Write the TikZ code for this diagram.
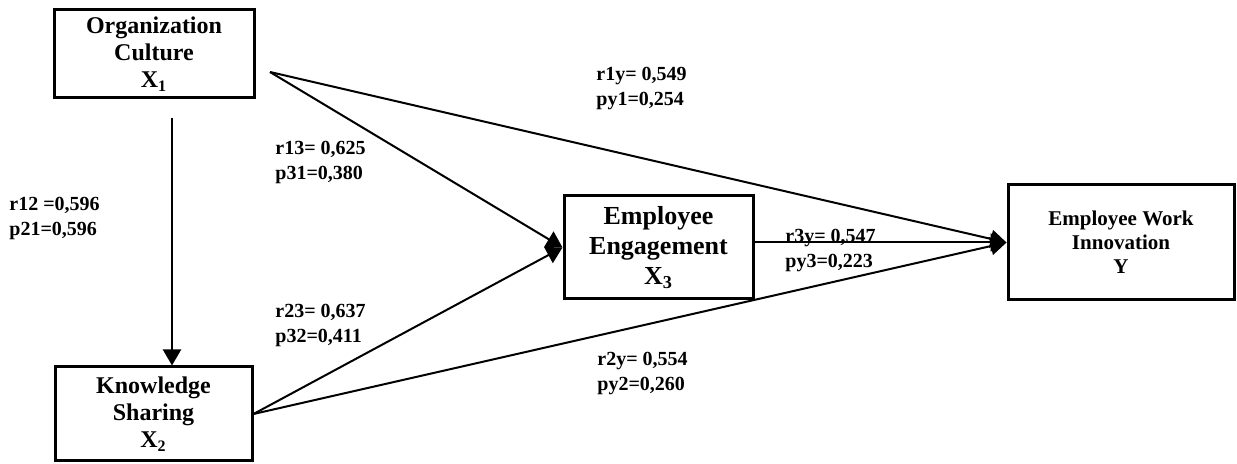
\documentclass[tikz,border=0pt]{standalone}
\usepackage{fontspec}
\setmainfont{Liberation Serif}
\usetikzlibrary{arrows.meta}
\begin{document}
\begin{tikzpicture}
  [x=0.5pt,y=-0.5pt,every node/.style={inner sep=0pt,font=\bfseries},
   var/.style={draw,line width=1.5pt,align=center},
   coef/.style={anchor=west,align=left,font=\bfseries\fontsize{10}{12.5}\selectfont},
   arr/.style={line width=1pt,-{Triangle[length=8pt,width=9pt]}}]
  \useasboundingbox (0,0) rectangle (1237,464);
  \node (x1)[var,minimum width=100pt,minimum height=44pt,font=\bfseries\fontsize{12}{13.5}\selectfont] at (154,54) {Organization\\Culture\\X\textsubscript{1}};
  \node (x2)[var,minimum width=98.5pt,minimum height=47pt,font=\bfseries\fontsize{12}{13.5}\selectfont] at (153.5,414) {Knowledge\\Sharing\\X\textsubscript{2}};
  \node (x3)[var,minimum width=94.5pt,minimum height=51.5pt,font=\bfseries\fontsize{13}{15}\selectfont] at (658.5,247.5) {Employee\\Engagement\\X\textsubscript{3}};
  \node (y)[var,minimum width=113pt,minimum height=57.5pt,font=\bfseries\fontsize{10.5}{12}\selectfont] at (1121,242.5) {Employee Work\\Innovation\\Y};

  \coordinate (o1) at (270,72);
  \coordinate (a12) at (172,118);

  \node (c12)[coef] at (9,218) {r12 =0,596\\p21=0,596};
  \node (c13)[coef] at (275,162) {r13= 0,625\\p31=0,380};
  \node (c23)[coef] at (275,325) {r23= 0,637\\p32=0,411};
  \node (c1y)[coef] at (596,89) {r1y= 0,549\\py1=0,254};
  \node (c3y)[coef] at (785,251) {r3y= 0,547\\py3=0,223};
  \node (c2y)[coef] at (597,374) {r2y= 0,554\\py2=0,260};

  \draw[arr] (a12) -- (a12 |- x2.north);
  \foreach \from/\to in {o1/x3.west,o1/y.west,x2.east/x3.west,x2.east/y.west}
    \draw[arr] (\from) -- (\to);
  \draw[arr] (x3.east |- y.west) -- (y.west);
\end{tikzpicture}
\end{document}
